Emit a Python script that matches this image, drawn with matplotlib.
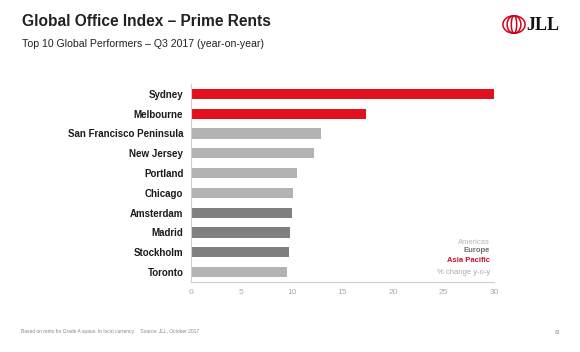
import matplotlib
matplotlib.use("Agg")
import matplotlib.pyplot as plt
from matplotlib.patches import Ellipse

plt.rcParams['font.family'] = ['Liberation Sans', 'DejaVu Sans']

cities = ["Sydney", "Melbourne", "San Francisco Peninsula", "New Jersey", "Portland",
          "Chicago", "Amsterdam", "Madrid", "Stockholm", "Toronto"]
values = [30.0, 17.3, 12.9, 12.2, 10.5, 10.1, 10.0, 9.85, 9.7, 9.5]
regions = ["Asia Pacific", "Asia Pacific", "Americas", "Americas", "Americas",
           "Americas", "Europe", "Europe", "Europe", "Americas"]
xticks = [0, 5, 10, 15, 20, 25, 30]

colors = {"Americas": "#B3B3B3", "Europe": "#7F7F7F", "Asia Pacific": "#E2101E"}

W, H = 580, 352
fig = plt.figure(figsize=(W / 100, H / 100), dpi=100)
ax = fig.add_axes([191 / W, 1 - 282 / H, (494 - 191) / W, (282 - 84) / H])

ypos = list(range(len(cities)))
ax.barh(ypos, values, height=0.52, color=[colors[r] for r in regions])
ax.set_ylim(len(cities) - 0.5, -0.5)
ax.set_xlim(0, 30)
ax.set_yticks(ypos)
ax.set_yticklabels(cities, fontsize=7, fontweight='bold', color='#1a1a1a')
ax.set_xticks(xticks)
ax.set_xticklabels([str(t) for t in xticks], fontsize=6, color='#aaaaaa')
ax.tick_params(axis='y', length=0, pad=5.5)
ax.tick_params(axis='x', length=0, pad=5)
for s in ['top', 'right']:
    ax.spines[s].set_visible(False)
for s in ['left', 'bottom']:
    ax.spines[s].set_color('#d0d0d0')
    ax.spines[s].set_linewidth(0.8)

# legend text
lx = 490 / W
fig.text(lx, 1 - 242 / H, "Americas", ha='right', va='center', fontsize=5.5, color='#b8b8b8')
fig.text(lx, 1 - 251 / H, "Europe", ha='right', va='center', fontsize=5.5, color='#6f6f6f', fontweight='bold')
fig.text(lx, 1 - 260 / H, "Asia Pacific", ha='right', va='center', fontsize=5.5, color='#c8102e', fontweight='bold')
fig.text(lx, 1 - 272 / H, "% change y-o-y", ha='right', va='center', fontsize=5.5, color='#aaaaaa')

# titles
fig.text(22 / W, 1 - 22 / H, "Global Office Index \u2013 Prime Rents", ha='left', va='center',
         fontsize=11.2, fontweight='bold', color='#222222')
fig.text(22 / W, 1 - 44 / H, "Top 10 Global Performers \u2013 Q3 2017 (year-on-year)", ha='left',
         va='center', fontsize=7.6, color='#222222')

# footer
fig.text(21 / W, 1 - 331 / H, "Based on rents for Grade A space. In local currency.    Source: JLL, October 2017",
         ha='left', va='center', fontsize=3.5, color='#888888')
fig.text(560 / W, 1 - 332 / H, "83", ha='right', va='center', fontsize=3.5, color='#888888')

# JLL logo
lax = fig.add_axes([502 / W, 1 - 34 / H, 24 / W, 19 / H])
lax.set_xlim(-1, 1)
lax.set_ylim(-1, 1)
lax.axis('off')
for w in [1.85, 1.15, 0.45]:
    lax.add_patch(Ellipse((0, 0), w, 1.85, fill=False, edgecolor='#D0021B', linewidth=1.1))
fig.text(526 / W, 1 - 25 / H, "JLL", ha='left', va='center', fontsize=13, fontweight='bold',
         color='#111111', family=['Liberation Serif', 'DejaVu Serif'])

fig.savefig("out.png", dpi=100, facecolor='white')
